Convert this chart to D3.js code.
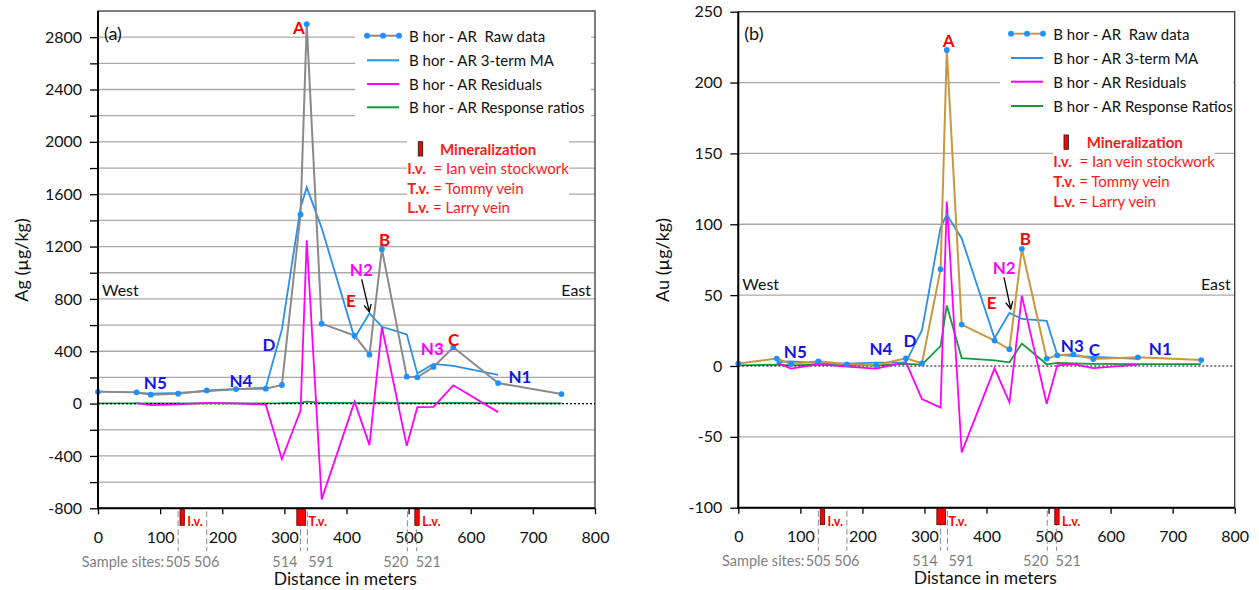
<!DOCTYPE html>
<html><head><meta charset="utf-8">
<script src="https://cdn.jsdelivr.net/npm/d3@7"></script>
<style>
body{margin:0;background:#fff}
svg{display:block}
text{font-family:Lato,"Open Sans",sans-serif;white-space:pre}
</style>
</head><body>
<svg id="c" width="1259" height="590"></svg>
<script>
// ---------------- DATA ----------------
const distance = [0, 62, 85, 129, 175, 222, 270, 296, 326, 336, 360, 413, 437, 457, 497, 514, 540, 572, 644, 746];

const agRaw   = [90, 86, 68, 76, 101, 111, 114, 142, 1445, 2900, 611, 519, 374, 1180, 206, 201, 280, 430, 157, 73];
const agMA    = [null, 81, 77, 82, 96, 109, 122, 567, 1496, 1652, 1343, 501, 691, 587, 529, 229, 304, 289, 220, null];
const agResid = [null, 4, -11, -6, 5, 2, -8, -423, -53, 1248, -732, 15, -317, 585, -323, -27, -25, 140, -65, null];
const agRatio = [2, 2, 1, 1, 2, 2, 2, 3, 8, 15, 5, 5, 4, 8, 3, 3, 3, 5, 3, 2];

const auRaw   = [1.7, 5.2, 1.4, 3.3, 1.2, 0.5, 5.4, 1.9, 68.3, 223, 29.2, 17.9, 11.8, 82.7, 5.2, 7.5, 8.2, 4.9, 6.1, 4.2];
const auMA    = [null, 2.8, 3.3, 2.0, 1.7, 2.4, 2.6, 25.2, 97.7, 106.8, 90.0, 19.6, 37.5, 33.2, 31.8, 8.0, 6.9, 6.4, 5.1, null];
const auResid = [null, 2.4, -1.9, 1.3, -0.5, -1.9, 2.8, -23.3, -29.4, 116, -61, -1.7, -25.7, 49.5, -26.6, 0.5, 1.3, -1.5, 1.0, null];
const auRatio = [0.5, 1, 0.5, 1, 0.5, 0.5, 1.5, 1, 14, 42.7, 5.6, 4.0, 2.6, 15.8, 1.2, 2.2, 1.8, 1.5, 1.3, 1.3];

const xTicks = [0, 100, 200, 300, 400, 500, 600, 700, 800];
const agTickMarks  = [-800, -600, -400, -200, 0, 200, 400, 600, 800, 1000, 1200, 1400, 1600, 1800, 2000, 2200, 2400, 2600, 2800];
const agTickLabels = [-800, -400, 0, 400, 800, 1200, 1600, 2000, 2400, 2800];
const auTickMarks  = [-100, -50, 0, 50, 100, 150, 200, 250];
const auTickLabels = [-100, -50, 0, 50, 100, 150, 200, 250];

const sampleSites = ["505", "506", "514", "591", "520", "521"];
const sampleSiteDistance = [129, 175, 326, 337, 498, 513];

const veinNames = ["I.v.", "T.v.", "L.v."];
const veinFrom  = [132, 320, 510];
const veinTo    = [139, 334, 517];

const legendAg = ["B hor - AR  Raw data", "B hor - AR 3-term MA", "B hor - AR Residuals", "B hor - AR Response ratios"];
const legendAu = ["B hor - AR  Raw data", "B hor - AR 3-term MA", "B hor - AR Residuals", "B hor - AR Response Ratios"];

// ---------------- DRAW ----------------
const svg = d3.select("#c");
const defs = svg.append("defs");
defs.append("marker").attr("id","arr").attr("viewBox","0 0 10 10").attr("refX",9).attr("refY",5)
  .attr("markerWidth",9).attr("markerHeight",9).attr("markerUnits","userSpaceOnUse").attr("orient","auto")
  .append("path").attr("d","M1,1 L9,5 L1,9").attr("fill","none").attr("stroke","#000").attr("stroke-width",1.4);

const C = {
  grid:"#a9a9a9", grey:"#8a8a8a", gold:"#c9973f", dot:"#1e90ff", ma:"#2b8fe8",
  mag:"#ff00ff", green:"#149a3c", red:"#ff0000", blue:"#1414e6"
};
const NARROW = "'Liberation Sans Narrow','Arial Narrow','Liberation Sans',sans-serif";

function panel(cfg){
  const g = svg.append("g");
  const x = d3.scaleLinear().domain([0, 800]).range([cfg.x0, cfg.x1]);
  const y = d3.scaleLinear().domain(cfg.yDomain).range([cfg.yBot, cfg.yTop]);

  g.append("g").selectAll("line").data(cfg.tickMarks.filter(d => d !== 0 && d !== cfg.yDomain[0] && d !== cfg.yDomain[1]))
    .join("line").attr("x1", cfg.x0).attr("x2", cfg.x1).attr("y1", d => y(d)).attr("y2", d => y(d))
    .attr("stroke", C.grid).attr("stroke-width", 1.3);

  g.append("rect").attr("x", cfg.legBox[0]).attr("y", cfg.legBox[1]).attr("width", cfg.legBox[2]).attr("height", cfg.legBox[3]).attr("fill", "#fff");
  g.append("rect").attr("x", cfg.minBox[0]).attr("y", cfg.minBox[1]).attr("width", cfg.minBox[2]).attr("height", cfg.minBox[3]).attr("fill", "#fff");

  g.append("rect").attr("x", cfg.x0).attr("y", cfg.yTop).attr("width", cfg.x1 - cfg.x0).attr("height", cfg.yBot - cfg.yTop)
    .attr("fill", "none").attr("stroke", "#3a3a3a").attr("stroke-width", 1.3);

  const line = (vals) => d3.line().defined((d, i) => vals[i] !== null)
    .x((d, i) => x(distance[i])).y((d, i) => y(vals[i]))(vals);

  g.append("path").attr("d", line(cfg.ratio)).attr("fill", "none").attr("stroke", C.green).attr("stroke-width", 1.8);
  g.append("line").attr("x1", cfg.x0).attr("x2", cfg.x1).attr("y1", y(0)).attr("y2", y(0))
    .attr("stroke", "#000").attr("stroke-width", 1.2).attr("stroke-dasharray", "2,2");
  g.append("path").attr("d", line(cfg.resid)).attr("fill", "none").attr("stroke", C.mag).attr("stroke-width", 1.8);
  g.append("path").attr("d", line(cfg.ma)).attr("fill", "none").attr("stroke", C.ma).attr("stroke-width", 1.8);
  g.append("path").attr("d", line(cfg.raw)).attr("fill", "none").attr("stroke", cfg.rawColor).attr("stroke-width", 2);
  g.append("g").selectAll("circle").data(cfg.raw).join("circle")
    .attr("cx", (d, i) => x(distance[i])).attr("cy", d => y(d)).attr("r", 2.9).attr("fill", C.dot);

  const ax = g.append("g").attr("transform", `translate(0,${cfg.yBot})`)
    .call(d3.axisBottom(x).tickValues(xTicks).tickSize(6).tickPadding(17).tickFormat(d3.format("d")));
  ax.select(".domain").remove();
  ax.selectAll("line").attr("stroke", "#000").attr("stroke-width", 1.3);
  ax.selectAll("text").attr("font-size", 16).attr("fill", "#111").attr("font-family", "Lato");

  const ay = g.append("g").attr("transform", `translate(${cfg.x0},0)`)
    .call(d3.axisLeft(y).tickValues(cfg.tickMarks).tickSize(8).tickPadding(8)
      .tickFormat(d => cfg.tickLabels.includes(d) ? d : ""));
  ay.select(".domain").remove();
  ay.selectAll("line").attr("stroke", "#000").attr("stroke-width", 1.3);
  ay.selectAll("text").attr("font-size", 16).attr("fill", "#111").attr("font-family", "Lato");

  g.append("line").attr("x1", cfg.x0).attr("x2", cfg.x0).attr("y1", cfg.yTop).attr("y2", cfg.yBot + 1).attr("stroke", "#000").attr("stroke-width", 2);
  g.append("line").attr("x1", cfg.x0 - 1).attr("x2", cfg.x1).attr("y1", cfg.yBot).attr("y2", cfg.yBot).attr("stroke", "#000").attr("stroke-width", 2);

  g.append("g").selectAll("line").data(sampleSiteDistance).join("line")
    .attr("x1", d => x(d)).attr("x2", d => x(d)).attr("y1", cfg.yBot + 3).attr("y2", cfg.yBot + 43)
    .attr("stroke", "#8c8c8c").attr("stroke-width", 1).attr("stroke-dasharray", "6,3");
  const sAnchor = ["middle", "middle", "end", "start", "end", "start"];
  const sDx = [0, 0, -3, 1, 1, -1];
  g.append("g").selectAll("text").data(sampleSites).join("text")
    .attr("x", (d, i) => x(sampleSiteDistance[i]) + sDx[i]).attr("y", cfg.yBot + 53)
    .attr("text-anchor", (d, i) => sAnchor[i]).attr("dominant-baseline", "central")
    .attr("font-family", NARROW).attr("font-size", 14.5).attr("fill", "#7f7f7f").text(d => d);
  g.append("text").attr("x", x(129) - 14).attr("y", cfg.yBot + 53).attr("text-anchor", "end").attr("dominant-baseline", "central")
    .attr("font-family", NARROW).attr("font-size", 14.5).attr("fill", "#7f7f7f").text("Sample sites:");

  g.append("g").selectAll("rect").data(veinNames).join("rect")
    .attr("x", (d, i) => x(veinFrom[i])).attr("width", (d, i) => x(veinTo[i]) - x(veinFrom[i]))
    .attr("y", cfg.yBot + 1).attr("height", 16).attr("fill", C.red).attr("stroke", "#5a0000").attr("stroke-width", 0.8);
  g.append("g").selectAll("text").data(veinNames).join("text")
    .attr("x", (d, i) => x(veinTo[i]) + 3).attr("y", cfg.yBot + 18)
    .attr("font-size", 12.5).attr("font-weight", "bold").attr("fill", C.red).text(d => d);

  g.append("text").attr("x", x(398)).attr("y", cfg.yBot + 70)
    .attr("text-anchor", "middle").attr("dominant-baseline", "central").attr("font-size", 17.5).attr("fill", "#111").text("Distance in meters");
  g.append("text").attr("transform", `translate(${cfg.yTitleX},260) rotate(-90)`)
    .attr("text-anchor", "middle").attr("dominant-baseline", "central").attr("font-size", 18).attr("fill", "#111").text(cfg.yTitle);

  g.append("text").attr("x", cfg.x0 + 6).attr("y", 33).attr("dominant-baseline", "central").attr("font-size", 18).attr("fill", "#111").text(cfg.letter);
  g.append("text").attr("x", cfg.x0 + 4).attr("y", cfg.westY).attr("dominant-baseline", "central").attr("font-size", 16).attr("fill", "#111").text("West");
  g.append("text").attr("x", cfg.x1 - 4).attr("y", cfg.westY).attr("text-anchor", "end").attr("dominant-baseline", "central").attr("font-size", 16).attr("fill", "#111").text("East");

  const L = cfg.leg;
  const lg = g.append("g");
  cfg.legend.forEach((t, i) => {
    const yy = L.rows[i];
    const col = [cfg.rawColor, C.ma, C.mag, C.green][i];
    lg.append("line").attr("x1", L.x1).attr("x2", L.x2).attr("y1", yy).attr("y2", yy).attr("stroke", col).attr("stroke-width", 2);
    if (i === 0) [L.x1, (L.x1 + L.x2) / 2, L.x2].forEach(cx => lg.append("circle").attr("cx", cx).attr("cy", yy).attr("r", 2.9).attr("fill", C.dot));
    lg.append("text").attr("x", L.tx).attr("y", yy).attr("dominant-baseline", "central").attr("font-size", 15).attr("fill", "#111").text(t);
  });
  const M = cfg.min;
  lg.append("rect").attr("x", M.rx).attr("y", M.ry).attr("width", 4.4).attr("height", 14.3).attr("fill", C.red).attr("stroke", "#222").attr("stroke-width", 0.9);
  lg.append("text").attr("x", M.mx).attr("y", M.ry + 7).attr("dominant-baseline", "central").attr("font-size", 15).attr("font-weight", "bold").attr("fill", "#ff1a1a").text("Mineralization");
  const rows = [["I.v.", "  = Ian vein stockwork"], ["T.v.", " = Tommy vein"], ["L.v.", " = Larry vein"]];
  rows.forEach((r, i) => {
    const t = lg.append("text").attr("x", M.tx).attr("y", M.rows[i]).attr("dominant-baseline", "central").attr("font-size", 15).attr("fill", "#ff1a1a");
    t.append("tspan").attr("font-weight", "bold").text(r[0]);
    t.append("tspan").text(r[1]);
  });

  cfg.ann.forEach(a => {
    g.append("text").attr("x", a[1]).attr("y", a[2]).attr("text-anchor", "middle").attr("dominant-baseline", "central")
      .attr("font-size", 17).attr("font-weight", "bold").attr("fill", a[3]).text(a[0]);
  });
  g.append("line").attr("x1", cfg.arrow[0]).attr("y1", cfg.arrow[1]).attr("x2", cfg.arrow[2]).attr("y2", cfg.arrow[3])
    .attr("stroke", "#000").attr("stroke-width", 1.3).attr("marker-end", "url(#arr)");
}

panel({
  x0: 98, x1: 595, yTop: 11, yBot: 508.3, yDomain: [-800, 3000],
  tickMarks: agTickMarks, tickLabels: agTickLabels,
  raw: agRaw, ma: agMA, resid: agResid, ratio: agRatio, rawColor: C.grey,
  yTitle: "Ag (µg/kg)", yTitleX: 21, letter: "(a)", westY: 289,
  legend: legendAg,
  legBox: [355, 14, 236, 107], minBox: [407, 130, 162, 83],
  leg: {x1: 367, x2: 399, tx: 409, rows: [35.7, 60.3, 84, 107.3]},
  min: {rx: 418.3, ry: 141.7, mx: 440, tx: 407.3, rows: [168.3, 187.7, 207.3]},
  ann: [["A", 299, 27.5, C.red], ["B", 384.5, 239.5, C.red], ["N2", 361.3, 269.7, C.mag], ["E", 351, 300, C.red],
        ["N3", 432.3, 348.3, C.mag], ["C", 453.7, 339.2, C.red], ["N1", 520, 376, C.blue], ["N5", 155.3, 382.5, C.blue],
        ["N4", 241, 380, C.blue], ["D", 269, 344, C.blue]],
  arrow: [361.7, 279.3, 369.3, 311.7]
});

panel({
  x0: 738.3, x1: 1234.7, yTop: 11.7, yBot: 507.7, yDomain: [-100, 250],
  tickMarks: auTickMarks, tickLabels: auTickLabels,
  raw: auRaw, ma: auMA, resid: auResid, ratio: auRatio, rawColor: C.gold,
  yTitle: "Au (µg/kg)", yTitleX: 662, letter: "(b)", westY: 283.5,
  legend: legendAu,
  legBox: [1000, 14, 233, 104], minBox: [1053, 128, 162, 82],
  leg: {x1: 1011, x2: 1043, tx: 1053.3, rows: [33.7, 58, 81.7, 106]},
  min: {rx: 1064, ry: 135, mx: 1086.7, tx: 1053.3, rows: [161, 181, 201]},
  ann: [["A", 948.7, 40.8, C.red], ["B", 1025.3, 238.7, C.red], ["N2", 1004.2, 267.2, C.mag], ["E", 991.7, 302, C.red],
        ["N3", 1072.3, 345.5, C.blue], ["C", 1094.3, 349.2, C.blue], ["N1", 1160.3, 348.2, C.blue], ["N5", 795.3, 351.5, C.blue],
        ["N4", 881, 348.3, C.blue], ["D", 910, 340.8, C.blue]],
  arrow: [1004, 277.3, 1010.7, 309]
});
</script>
</body></html>
